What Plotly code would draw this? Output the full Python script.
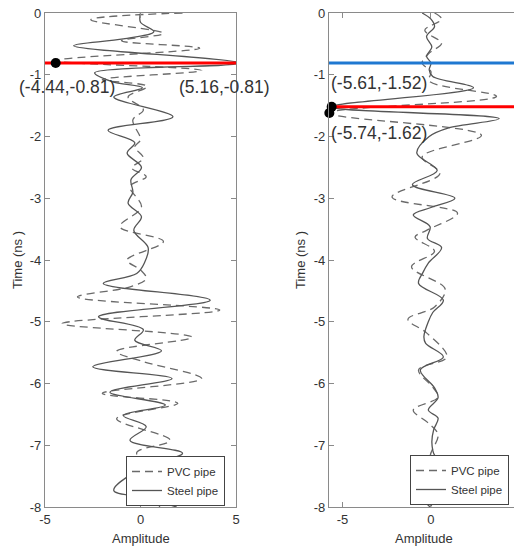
import plotly.graph_objects as go

# ---------------- data ----------------
# Left panel
left_steel_time = [0.00, -0.15, -0.30, -0.42, -0.53, -0.81, -0.97, -1.11, -1.21, -1.36, -1.68, -1.90,
                   -2.10, -2.27, -2.50, -2.70, -2.90, -3.08, -3.30, -3.52, -3.80, -4.05, -4.22, -4.38,
                   -4.65, -4.92, -5.13, -5.30, -5.47, -5.73, -5.92, -6.14, -6.35, -6.52, -6.70, -6.92,
                   -7.13, -7.35, -7.73, -7.85, -8.00]
left_steel_amp = [0.0, 0.0, 0.7, -0.9, -3.5, 5.16, -2.4, -1.5, 0.1, -1.4, 1.7, -1.7,
                  -0.3, -0.7, 0.05, -0.5, -0.4, -0.65, 0.05, -0.35, 0.4, 0.2, -0.2, -1.95,
                  3.65, -2.2, 0.15, -0.3, 1.1, -2.5, 1.65, -1.6, 1.3, -0.9, 0.3, -0.55,
                  2.2, 0.2, -1.4, 0.2, 1.9]

left_pvc_time = [0.00, -0.11, -0.33, -0.45, -0.57, -0.77, -0.93, -1.08, -1.19, -1.36, -1.57, -1.73,
                 -2.05, -2.17, -2.35, -2.51, -2.65, -2.81, -3.14, -3.46, -3.70, -4.00, -4.16, -4.30,
                 -4.43, -4.60, -4.81, -5.03, -5.25, -5.48, -5.65, -5.92, -6.16, -6.32, -6.57, -6.92,
                 -7.12, -7.35, -7.70, -8.00]
left_pvc_amp = [2.2, -2.6, 1.2, -1.0, 3.1, -4.44, 3.2, -2.0, 0.35, -0.65, 0.15, -0.4,
                0.0, -0.3, 0.15, -0.45, 0.3, -0.55, 0.05, -1.07, 1.2, -0.7, 0.0, 0.3,
                -0.5, -3.3, 4.15, -4.1, 2.7, -1.25, 0.2, 3.2, -2.0, 1.95, -1.25, 1.55,
                -0.2, 0.4, 0.8, 1.0]

# Right panel
right_steel_time = [0.00, -0.10, -0.22, -0.38, -0.55, -0.70, -0.81, -0.92, -1.03, -1.21, -1.52, -1.71,
                    -1.86, -2.00, -2.27, -2.55, -2.78, -3.00, -3.15, -3.27, -3.46, -3.65, -3.80, -4.05,
                    -4.20, -4.38, -4.65, -4.85, -5.00, -5.24, -5.35, -5.57, -5.78, -6.07, -6.23, -6.43,
                    -6.56, -6.75, -6.95, -7.16, -7.27, -7.60, -7.84, -8.00]
right_steel_amp = [-0.5, 0.0, 0.2, -0.25, 0.05, -0.25, 0.0, -0.1, 0.1, 2.4, -5.61, 3.85,
                   1.0, -0.1, -0.8, 0.35, -1.05, 1.35, 0.0, -1.0, -0.05, -0.2, 0.6, -0.15,
                   -0.45, -0.7, 0.7, 0.1, -0.15, -0.4, -0.3, 0.7, -0.6, 0.2, 0.4, -0.15,
                   0.4, 0.15, 0.05, 0.2, 0.6, 0.1, -0.45, -0.05]

right_pvc_time = [0.00, -0.10, -0.28, -0.49, -0.65, -0.81, -0.95, -1.10, -1.35, -1.62, -1.98, -2.33,
                  -2.60, -2.98, -3.24, -3.52, -3.63, -3.86, -4.11, -4.47, -4.76, -4.96, -5.18, -5.57,
                  -5.78, -6.06, -6.22, -6.43, -6.64, -6.83, -7.19, -7.50, -8.00]
right_pvc_amp = [0.2, 0.6, -0.35, 0.6, -0.1, -0.5, 0.0, -0.1, 3.7, -5.74, 2.85, -0.5,
                 0.5, -2.2, 1.5, -0.25, -0.9, 0.2, -1.1, 0.8, 0.2, -1.3, -0.25, 0.9,
                 -0.7, 0.1, 0.4, -1.0, -0.15, 0.4, -0.05, 0.3, 0.0]

# Marked points
left_pts_x = [-4.44, 5.16]
left_pts_y = [-0.81, -0.81]
right_pts_x = [-5.61, -5.74]
right_pts_y = [-1.52, -1.62]

# Reference lines
left_red_x = [-5.0, 5.16]
left_red_y = [-0.81, -0.81]
right_blue_x = [-5.76, 5.0]
right_blue_y = [-0.81, -0.81]
right_red_x = [-5.61, 5.0]
right_red_y = [-1.52, -1.52]

# Axes
y_ticks = [0, -1, -2, -3, -4, -5, -6, -7, -8]
y_ticktext = ["0", "-1", "-2", "-3", "-4", "-5", "-6", "-7", "-8"]
x_ticks = [-5, 0, 5]
x_ticktext = ["-5", "0", "5"]
left_xrange = [-5, 5]
right_xrange = [-5.76, 5]
y_range = [-8, 0]

# ---------------- figure ----------------
# the page adds an 8px body margin, so the figure is sized/positioned to compensate
OFF = 8
W, H = 522 - OFF, 546 - OFF
FONT = "Liberation Sans"
TXT = "#333333"
AX = "#8a8a8a"
SOLID_C = "#555555"
DASH_C = "#6a6a6a"


def px_x(p):
    return (p - OFF) / W


def px_y(p):
    return 1 - (p - OFF) / H


left_dom = [px_x(45), px_x(236)]
right_dom = [px_x(329), px_x(519.5)]
y_dom = [px_y(507), px_y(13)]


def data_to_paper(v, dom, rng):
    return dom[0] + (v - rng[0]) / (rng[1] - rng[0]) * (dom[1] - dom[0])


fig = go.Figure()

# left panel curves
fig.add_trace(go.Scatter(x=left_pvc_amp, y=left_pvc_time, mode="lines", name="PVC pipe",
                         line=dict(color=DASH_C, width=1.3, dash="8px,5px", shape="spline", smoothing=1.0),
                         xaxis="x", yaxis="y", legend="legend"))
fig.add_trace(go.Scatter(x=left_steel_amp, y=left_steel_time, mode="lines", name="Steel pipe",
                         line=dict(color=SOLID_C, width=1.3, shape="spline", smoothing=1.0),
                         xaxis="x", yaxis="y", legend="legend"))
fig.add_trace(go.Scatter(x=left_red_x, y=left_red_y, mode="lines", showlegend=False,
                         line=dict(color="#ff0000", width=3), xaxis="x", yaxis="y"))
fig.add_trace(go.Scatter(x=left_pts_x, y=left_pts_y, mode="markers", showlegend=False, cliponaxis=False,
                         marker=dict(color="black", size=10), xaxis="x", yaxis="y"))

# right panel curves
fig.add_trace(go.Scatter(x=right_pvc_amp, y=right_pvc_time, mode="lines", name="PVC pipe",
                         line=dict(color=DASH_C, width=1.3, dash="8px,5px", shape="spline", smoothing=1.0),
                         xaxis="x2", yaxis="y2", legend="legend2"))
fig.add_trace(go.Scatter(x=right_steel_amp, y=right_steel_time, mode="lines", name="Steel pipe",
                         line=dict(color=SOLID_C, width=1.3, shape="spline", smoothing=1.0),
                         xaxis="x2", yaxis="y2", legend="legend2"))
fig.add_trace(go.Scatter(x=right_blue_x, y=right_blue_y, mode="lines", showlegend=False,
                         line=dict(color="#1f78d1", width=3), xaxis="x2", yaxis="y2"))
fig.add_trace(go.Scatter(x=right_red_x, y=right_red_y, mode="lines", showlegend=False,
                         line=dict(color="#ff0000", width=3), xaxis="x2", yaxis="y2"))
fig.add_trace(go.Scatter(x=right_pts_x, y=right_pts_y, mode="markers", showlegend=False, cliponaxis=False,
                         marker=dict(color="black", size=10), xaxis="x2", yaxis="y2"))

axis_common = dict(showgrid=False, zeroline=False, showline=True, linecolor=AX, linewidth=1.2,
                   mirror="ticks", ticks="inside", ticklen=5, tickcolor=AX, tickwidth=1,
                   automargin=False, ticklabeloverflow="allow",
                   tickfont=dict(family=FONT, size=13, color=TXT))

legend_common = dict(xanchor="left", yanchor="middle", bordercolor="#444444", borderwidth=1,
                     bgcolor="white", tracegroupgap=0, itemwidth=30,
                     font=dict(family=FONT, size=11.5, color=TXT))

fig.update_layout(
    template="none",
    width=W, height=H,
    margin=dict(l=0, r=0, t=0, b=0, pad=0, autoexpand=False),
    paper_bgcolor="white", plot_bgcolor="white",
    xaxis=dict(domain=left_dom, range=left_xrange, tickvals=x_ticks, ticktext=x_ticktext,
               anchor="y", **axis_common),
    yaxis=dict(domain=y_dom, range=y_range, tickvals=y_ticks, ticktext=y_ticktext,
               anchor="x", **axis_common),
    xaxis2=dict(domain=right_dom, range=right_xrange, tickvals=x_ticks, ticktext=x_ticktext,
                anchor="y2", **axis_common),
    yaxis2=dict(domain=y_dom, range=y_range, tickvals=y_ticks, ticktext=y_ticktext,
                anchor="x2", **axis_common),
    legend=dict(x=px_x(126), y=px_y(481), **legend_common),
    legend2=dict(x=px_x(410), y=px_y(480), **legend_common),
)

# point labels (positioned in paper space so points outside the axis range still get a label)
lab_font = dict(family=FONT, size=17.5, color=TXT)


def lab(x, y):
    return f"({x:.2f},{y:.2f})"


def add_label(x, y, dom, rng, xshift, yshift):
    fig.add_annotation(x=data_to_paper(x, dom, rng), y=data_to_paper(y, y_dom, y_range),
                       xref="paper", yref="paper", text=lab(x, y), showarrow=False,
                       xanchor="left", yanchor="middle", xshift=xshift, yshift=yshift, font=lab_font)


add_label(left_pts_x[0], left_pts_y[0], left_dom, left_xrange, -39, -24)
add_label(left_pts_x[1], left_pts_y[1], left_dom, left_xrange, -62, -24)
add_label(right_pts_x[0], right_pts_y[0], right_dom, right_xrange, -3, 24)
add_label(right_pts_x[1], right_pts_y[1], right_dom, right_xrange, 0, -20)

# axis titles
title_font = dict(family=FONT, size=13, color=TXT)
for cx in (18, 301):
    fig.add_annotation(x=px_x(cx), y=px_y(260), xref="paper", yref="paper", text="Time (ns )",
                       textangle=-90, showarrow=False, font=title_font, xanchor="center", yanchor="middle")
for dom in (left_dom, right_dom):
    fig.add_annotation(x=(dom[0] + dom[1]) / 2, y=px_y(538), xref="paper", yref="paper", text="Amplitude",
                       showarrow=False, font=title_font, xanchor="center", yanchor="middle")

fig.write_html("out.html")
